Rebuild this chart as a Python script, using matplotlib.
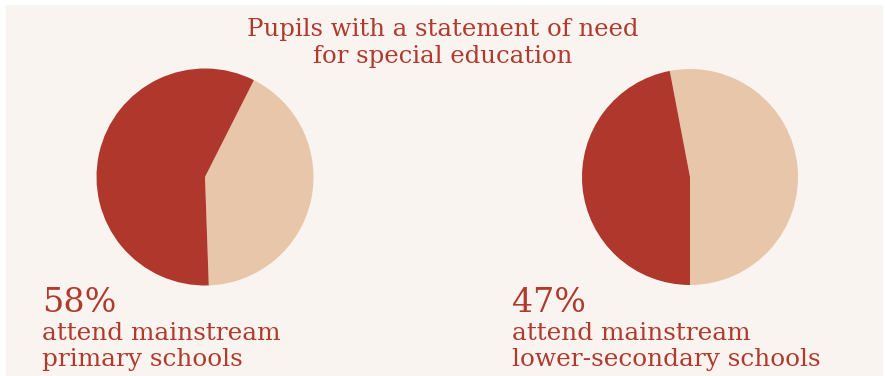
import matplotlib
matplotlib.use("Agg")
import matplotlib.pyplot as plt
from matplotlib.patches import Rectangle

# Data
labels = ["Mainstream", "Other"]
primary_shares = [58, 42]
lower_secondary_shares = [47, 53]
title_lines = ["Pupils with a statement of need", "for special education"]
captions = [
    ("58%", "attend mainstream", "primary schools"),
    ("47%", "attend mainstream", "lower-secondary schools"),
]

RED = "#b0372b"
BEIGE = "#e8c6aa"
CREAM = "#f9f4ef"
TEXT = "#b03a2e"
W, H = 885, 376

plt.rcParams["font.family"] = ["DejaVu Serif"]

fig = plt.figure(figsize=(W / 100, H / 100), dpi=100)
fig.patch.set_facecolor("white")
fig.add_artist(Rectangle((6 / W, 0), (883 - 6) / W, 1 - 5 / H,
                         transform=fig.transFigure, facecolor=CREAM,
                         edgecolor="none", zorder=0))


def px_axes(cx, cy, r):
    return fig.add_axes([(cx - r) / W, (H - cy - r) / H, 2 * r / W, 2 * r / H])


def draw_pie(ax, shares, start):
    # other share first, counter-clockwise from the bottom
    ax.pie([shares[1], shares[0]], colors=[BEIGE, RED], startangle=start,
           counterclock=True, radius=1, wedgeprops=dict(linewidth=0))
    ax.set_xlim(-1, 1)
    ax.set_ylim(-1, 1)
    ax.set_aspect("equal")
    ax.axis("off")


draw_pie(px_axes(205, 177, 108.5), primary_shares, -88)
draw_pie(px_axes(690, 177, 108), lower_secondary_shares, -90)


def ftext(x, y, s, size, ha="left", **kw):
    fig.text(x / W, 1 - y / H, s, fontsize=size, color=TEXT, ha=ha,
             va="baseline", **kw)


ftext(443, 36, title_lines[0], 17.6, ha="center")
ftext(443, 63, title_lines[1], 17.6, ha="center")

for x0, (pct, l1, l2) in zip([42, 512], captions):
    ftext(x0, 312, pct, 24)
    ftext(x0, 340, l1, 17.8)
    ftext(x0, 366, l2, 17.8)

fig.savefig("out.png", dpi=100, facecolor=fig.get_facecolor())
